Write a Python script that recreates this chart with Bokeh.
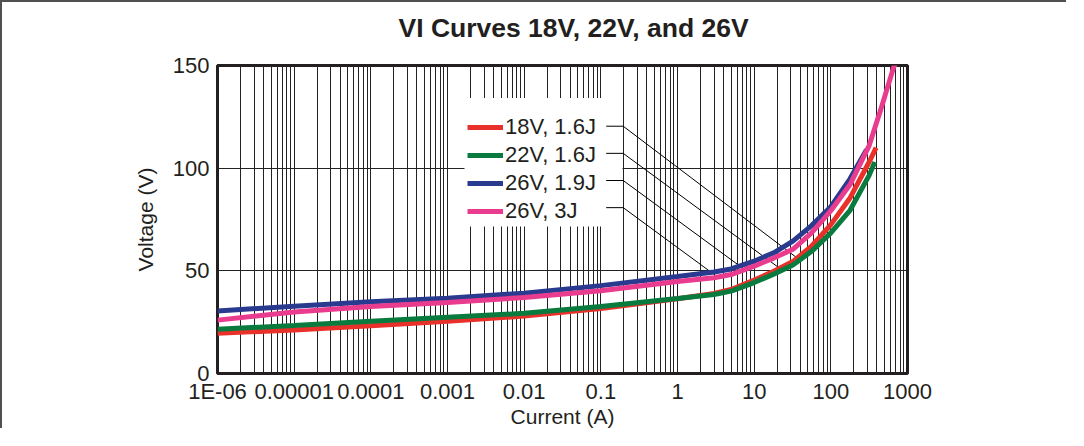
import numpy as np
from bokeh.plotting import figure
from bokeh.models import FixedTicker, Legend, LegendItem, Title
from bokeh.embed import file_html
from bokeh.resources import INLINE

# ---------------- data ----------------
x_tick_values = [1e-6, 1e-5, 1e-4, 1e-3, 1e-2, 1e-1, 1.0, 10.0, 100.0, 1000.0]
x_tick_labels = ["1E-06", "0.00001", "0.0001", "0.001", "0.01", "0.1", "1", "10", "100", "1000"]
y_tick_values = [0, 50, 100, 150]

series_names = ["18V, 1.6J", "22V, 1.6J", "26V, 1.9J", "26V, 3J"]

current_18v_16j = [1e-6, 1e-5, 1e-4, 1e-3, 1e-2, 0.1, 1, 3, 5, 10, 18, 32, 56, 100, 178, 316, 390]
voltage_18v_16j = [19.6, 21.2, 23.3, 25.4, 28.0, 31.6, 36.4, 39.0, 40.9, 45.5, 49.8, 54.5, 62.0, 72.5, 85.5, 103.0, 110.0]

current_22v_16j = [1e-6, 1e-5, 1e-4, 1e-3, 1e-2, 0.1, 1, 3, 5, 10, 18, 32, 56, 100, 178, 316, 374]
voltage_22v_16j = [21.6, 23.4, 25.4, 27.4, 29.3, 32.6, 36.5, 38.5, 40.1, 44.3, 48.4, 52.8, 59.5, 68.5, 79.5, 96.5, 103.0]

current_26v_19j = [1e-6, 1e-5, 1e-4, 1e-3, 1e-2, 0.1, 1, 3, 5, 10, 18, 32, 56, 100, 178, 292]
voltage_26v_19j = [30.4, 32.8, 35.0, 36.7, 39.1, 42.8, 47.2, 49.4, 50.9, 54.7, 58.8, 64.5, 72.0, 81.2, 94.8, 109.0]

current_26v_3j = [1e-6, 1e-5, 1e-4, 1e-3, 1e-2, 0.1, 1, 3, 5, 10, 18, 32, 56, 100, 178, 316, 447, 660, 700]
voltage_26v_3j = [26.0, 30.0, 32.6, 34.6, 37.0, 40.3, 44.8, 46.6, 48.2, 52.3, 56.2, 60.5, 68.5, 79.3, 92.0, 111.0, 128.4, 149.2, 151.0]

# current (A) at which each legend leader line meets its curve
leader_currents = [36.4, 23.2, 6.5, 3.35]

chart_title = "VI Curves 18V, 22V, and 26V"
series_colors = ["#e8312a", "#0a7b3e", "#2a3b8f", "#ea3c8f"]

# ---------------- layout ----------------
X_MIN, X_MAX = 1e-6, 1e3
Y_MIN, Y_MAX = 0, 150
FIG_W, FIG_H = 1066, 428
B_LEFT, B_RIGHT, B_TOP, B_BOTTOM = 215, 161, 63, 53
FRAME_W = FIG_W - B_LEFT - B_RIGHT
FRAME_H = FIG_H - B_TOP - B_BOTTOM
DECADES = np.log10(X_MAX) - np.log10(X_MIN)
TXT = "#231f20"
FONT = "Liberation Sans"


def fx(px):
    """frame pixel offset from left -> data x"""
    return 10 ** (np.log10(X_MIN) + px / FRAME_W * DECADES)


def fy(py):
    """frame pixel offset from top -> data y"""
    return Y_MAX - py / FRAME_H * (Y_MAX - Y_MIN)


p = figure(width=FIG_W, height=FIG_H, x_axis_type="log",
           x_range=(X_MIN, X_MAX), y_range=(Y_MIN, Y_MAX),
           output_backend="svg", toolbar_location=None,
           min_border_left=B_LEFT, min_border_right=B_RIGHT,
           min_border_top=B_TOP, min_border_bottom=B_BOTTOM)
p.styles = {"border-top": "2px solid #505050", "border-left": "2px solid #505050"}

p.title = Title(text=chart_title, align="left", offset=181, vertical_align="bottom",
                text_font=FONT, text_font_size="26.5px", text_font_style="bold",
                text_color=TXT, standoff=0)
# empty spacer panel between title and frame
p.add_layout(Title(text=" ", text_font_size="1px", standoff=20), "above")

p.outline_line_color = TXT
p.outline_line_width = 3
p.background_fill_color = "white"
p.border_fill_color = "white"

minor_x = [m * 10.0 ** k for k in range(-6, 3) for m in range(2, 10)]
p.xaxis.ticker = FixedTicker(ticks=x_tick_values, minor_ticks=minor_x)
p.xaxis.major_label_overrides = {v: s for v, s in zip(x_tick_values, x_tick_labels)}
p.yaxis.ticker = FixedTicker(ticks=y_tick_values)

for ax in (p.xaxis[0], p.yaxis[0]):
    ax.axis_line_color = None
    ax.major_tick_line_color = None
    ax.minor_tick_line_color = None
    ax.major_tick_out = 0
    ax.major_tick_in = 0
    ax.minor_tick_out = 0
    ax.minor_tick_in = 0
    ax.major_label_text_font = FONT
    ax.major_label_text_font_size = "22px"
    ax.major_label_text_color = TXT
    ax.axis_label_text_font = FONT
    ax.axis_label_text_font_size = "21px"
    ax.axis_label_text_font_style = "normal"
    ax.axis_label_text_color = TXT

p.xaxis.axis_label = "Current (A)"
p.yaxis.axis_label = "Voltage (V)"
p.xaxis.major_label_standoff = 5
p.yaxis.major_label_standoff = 8
p.xaxis.axis_label_standoff = -2
p.yaxis.axis_label_standoff = 13

p.xgrid.grid_line_color = "#222222"
p.xgrid.grid_line_width = 1
p.xgrid.minor_grid_line_color = "#222222"
p.xgrid.minor_grid_line_width = 1
p.ygrid.grid_line_color = "#222222"
p.ygrid.grid_line_width = 1

# white box behind legend (hides the grid there)
p.quad(left=[fx(247)], right=[fx(405)], top=[fy(33)], bottom=[fy(163)],
       fill_color="white", line_color=None)

# leader lines from legend rows to their curves
series_x = [current_18v_16j, current_22v_16j, current_26v_19j, current_26v_3j]
series_y = [voltage_18v_16j, voltage_22v_16j, voltage_26v_19j, voltage_26v_3j]
row_offsets = [61.5 + 27.5 * i for i in range(4)]
lx, ly = [], []
for cur, xs, ys, ro in zip(leader_currents, series_x, series_y, row_offsets):
    v_end = float(np.interp(np.log10(cur), np.log10(xs), ys))
    lx.append([fx(388.7), fx(405.7), cur])
    ly.append([fy(ro), fy(ro), v_end])
p.multi_line(xs=lx, ys=ly, line_color="black", line_width=1)

renderers = []
for xs, ys, c in zip(series_x, series_y, series_colors):
    r = p.line(xs, ys, line_color=c, line_width=5)
    renderers.append(r)

legend = Legend(items=[LegendItem(label=n, renderers=[r]) for n, r in zip(series_names, renderers)],
                location=(250, 149), padding=0, margin=0, spacing=2,
                glyph_width=36, glyph_height=20, label_height=20, label_standoff=2,
                label_text_font=FONT, label_text_font_size="22px", label_text_color=TXT,
                background_fill_alpha=0, border_line_color=None)
p.add_layout(legend)

open("out.html", "w").write(file_html(p, INLINE))
